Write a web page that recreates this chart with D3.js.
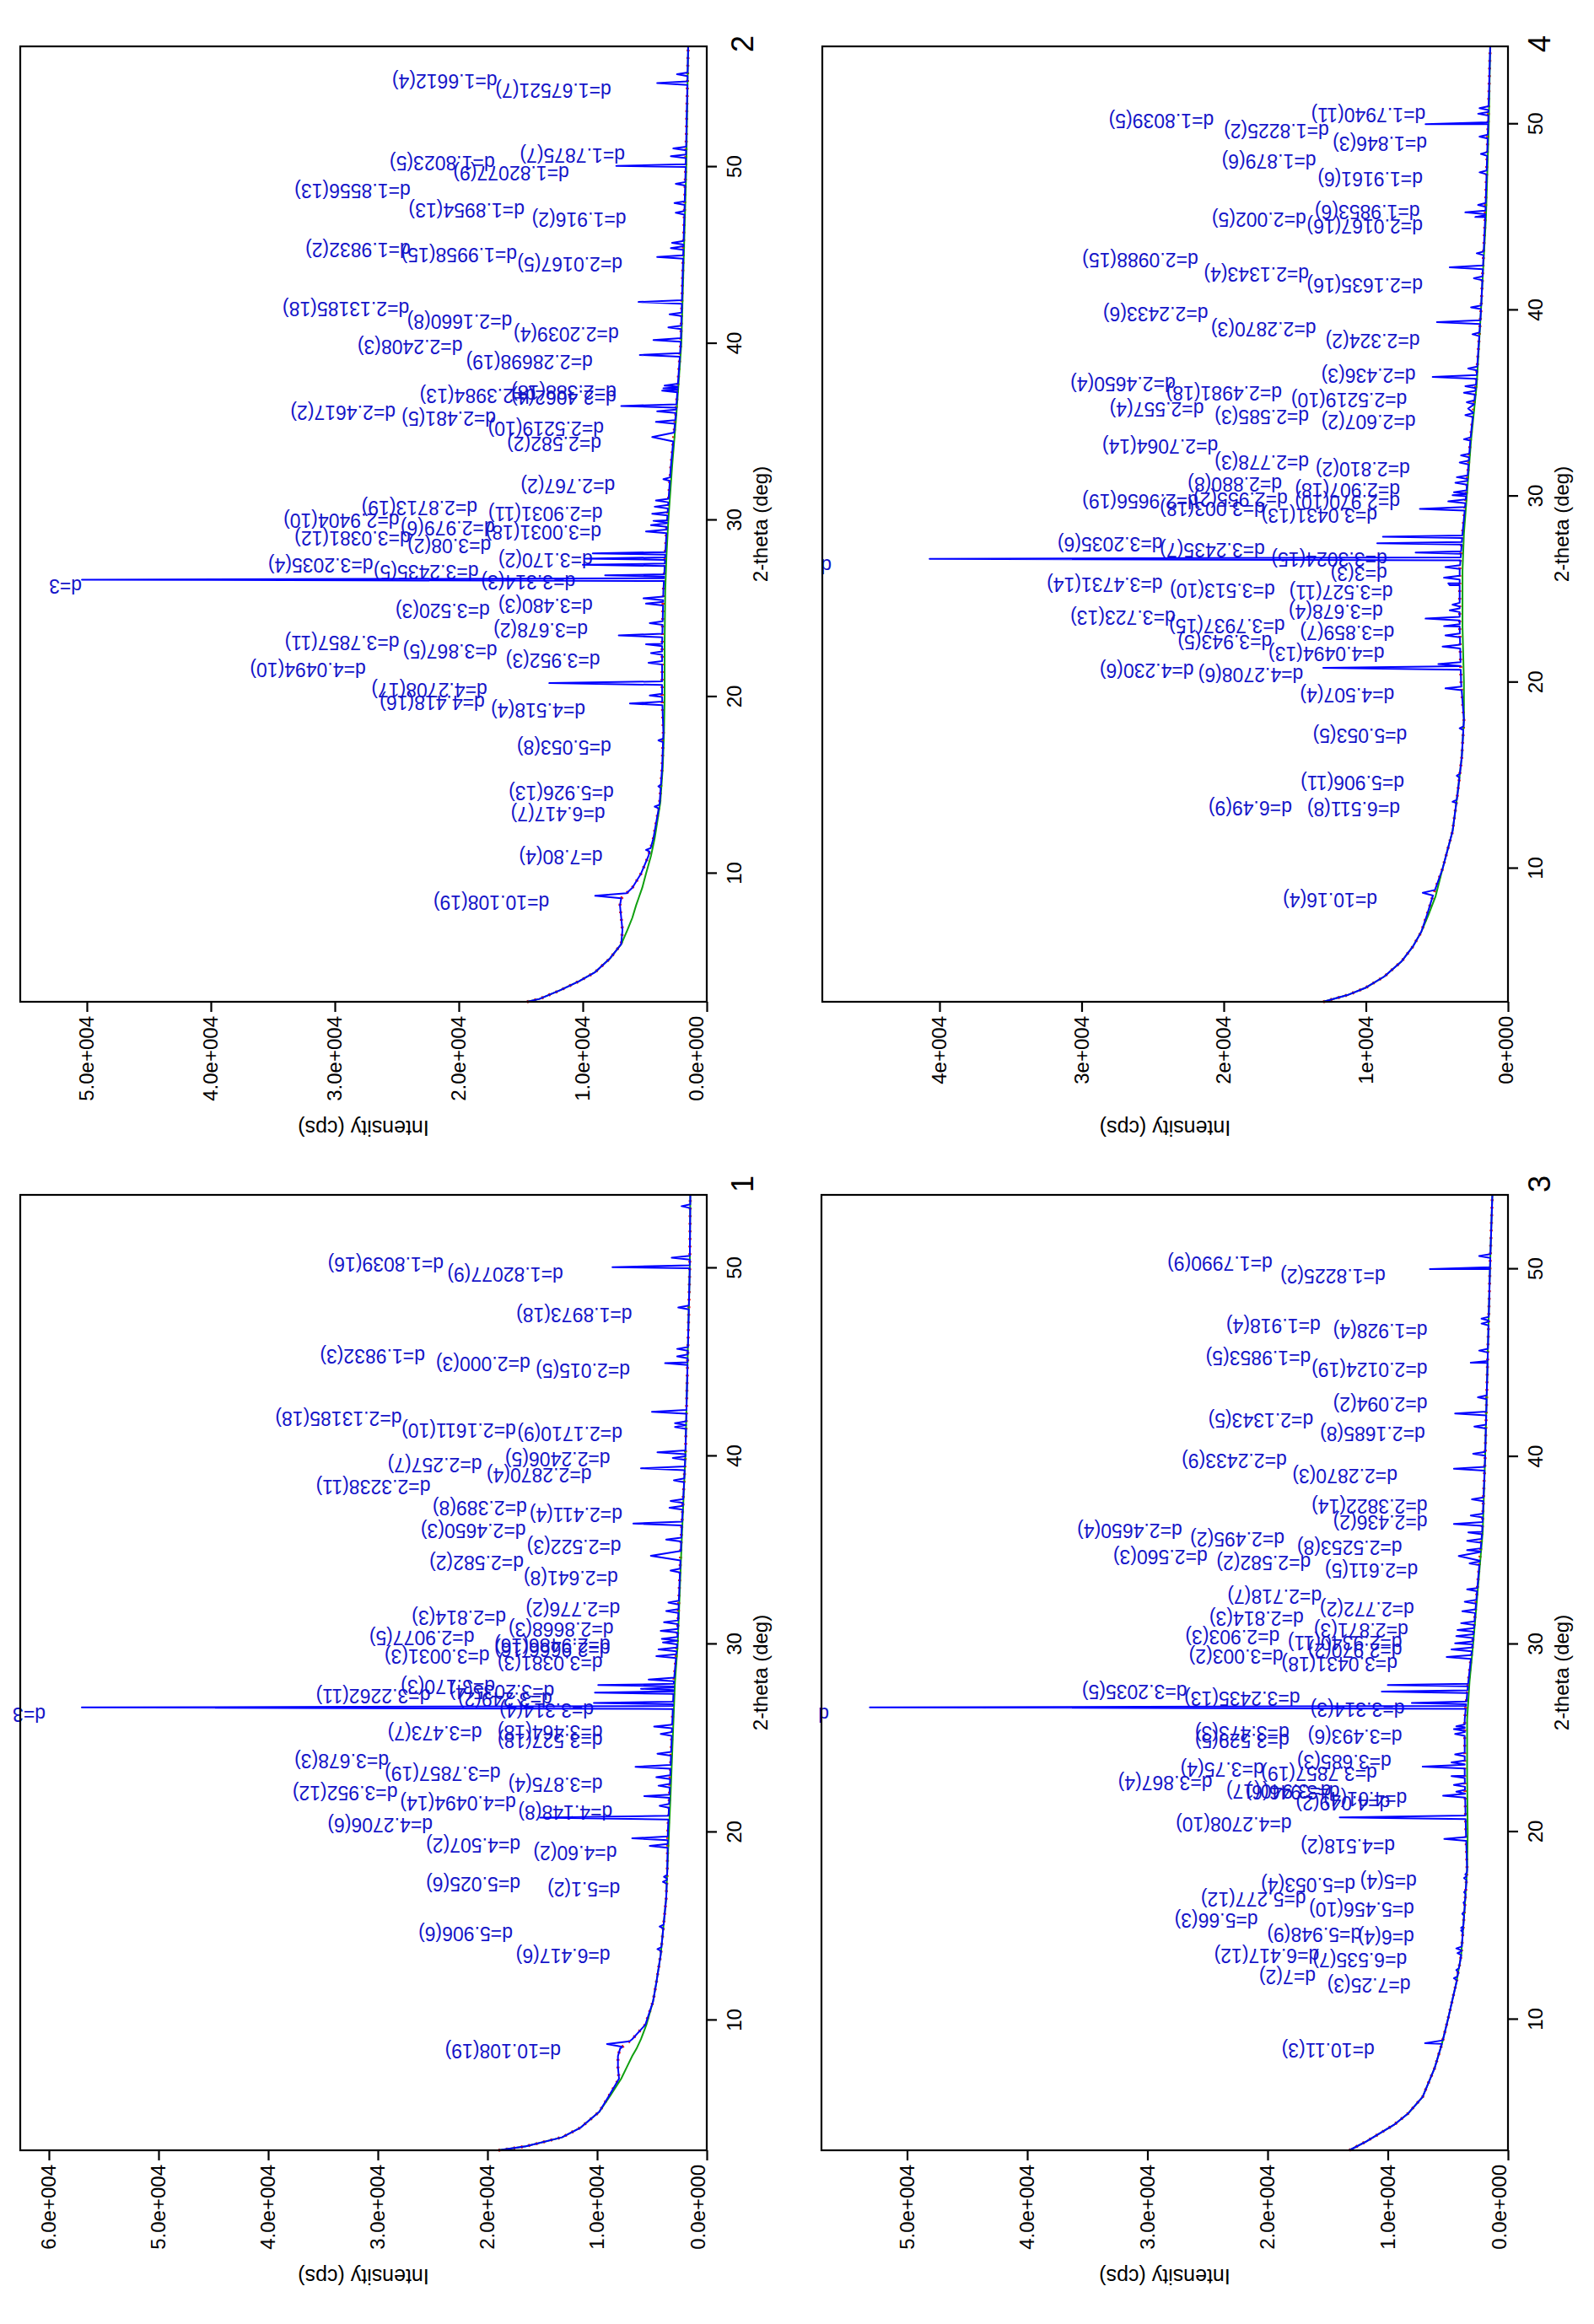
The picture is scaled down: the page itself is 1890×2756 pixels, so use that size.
<!DOCTYPE html>
<html><head><meta charset="utf-8">
<script src="https://cdn.jsdelivr.net/npm/d3@7/dist/d3.min.js"></script>
<style>body{margin:0;background:#fff}svg{display:block}</style>
</head><body>
<svg id="chart" width="1890" height="2756"></svg>
<script>
// ---------------- tick values / labels ----------------
const twoThetaTicks = [10, 20, 30, 40, 50];
const twoThetaTickLabels = ["10", "20", "30", "40", "50"];
const intensityTicks6 = [0, 10000, 20000, 30000, 40000, 50000, 60000];
const intensityTickLabels6 = ["0.0e+000", "1.0e+004", "2.0e+004", "3.0e+004", "4.0e+004", "5.0e+004", "6.0e+004"];
const intensityTicks5 = [0, 10000, 20000, 30000, 40000, 50000];
const intensityTickLabels5 = ["0.0e+000", "1.0e+004", "2.0e+004", "3.0e+004", "4.0e+004", "5.0e+004"];
const intensityTicks4 = [0, 10000, 20000, 30000, 40000];
const intensityTickLabels4 = ["0e+000", "1e+004", "2e+004", "3e+004", "4e+004"];

// ---------------- pattern 1 ----------------
const p1Theta = [3.09, 3.3, 3.78, 4.3, 5.14, 6, 6.9, 7.5, 8.1, 8.5, 9.0, 9.77, 11, 12, 13.5, 16.5, 18, 20, 22, 25, 28, 30, 33, 36, 40, 45, 50, 53.9];
const p1Bg = [19000, 16500, 13200, 11500, 9800, 8800, 7800, 7300, 6800, 6400, 6000, 5500, 4900, 4600, 4200, 3700, 3600, 3450, 3300, 3100, 2900, 2650, 2450, 2250, 1950, 1750, 1550, 1500];
const p1Obs = [19000, 16500, 13200, 11500, 9800, 8900, 8000, 8100, 8100, 7900, 6800, 5600, 4900, 4600, 4200, 3700, 3600, 3550, 3400, 3200, 3000, 2700, 2500, 2300, 1950, 1750, 1550, 1500];
const p1Peaks = [[8.74, 9100, 0.15], [13.79, 4500], [14.99, 4300], [17.37, 4000], [17.64, 3900], [19.28, 5200], [19.68, 6800], [20.78, 15200], [21.41, 4300], [21.93, 5700], [22.48, 4400], [22.93, 4600], [23.48, 6500], [24.18, 4500], [25.23, 4200], [25.63, 4800], [26.64, 57000, 0.08], [26.88, 10300, 0.07], [27.43, 10200, 0.07], [27.63, 6000, 0.07], [27.83, 9900, 0.07], [28.13, 5300], [29.37, 4600], [29.73, 4400], [30.1, 4000], [30.29, 4100], [30.72, 4200], [31.17, 3900], [31.77, 3700], [32.22, 3500], [33.92, 3300], [34.71, 5100, 0.25], [35.57, 3700], [36.42, 6700], [37.26, 3400], [37.62, 3300], [38.72, 3000], [39.36, 6000], [39.91, 3100], [40.21, 4500], [41.56, 2900], [41.76, 2900], [42.36, 5000], [44.95, 3800], [45.31, 2700], [45.71, 2700], [47.91, 2600], [50.06, 8600], [50.56, 3200], [53.3, 2300]];
const p1Labels = [
  ["d=10.108(19)", 8.74, 13300], ["d=6.417(6)", 13.79, 8800], ["d=5.906(6)", 14.99, 17700],
  ["d=5.1(2)", 17.37, 7900], ["d=5.025(6)", 17.64, 17000], ["d=4.60(2)", 19.28, 8200], ["d=4.507(2)", 19.68, 17000],
  ["d=4.2706(6)", 20.78, 25000], ["d=4.148(8)", 21.41, 8600], ["d=4.0494(14)", 21.93, 17400], ["d=3.952(12)", 22.48, 28200],
  ["d=3.875(4)", 22.93, 9500], ["d=3.7857(19)", 23.48, 18800], ["d=3.678(3)", 24.18, 29000],
  ["d=3.527(18)", 25.23, 9500], ["d=3.464(18)", 25.70, 9500], ["d=3.473(7)", 25.63, 20500],
  ["d=3", 26.64, 60300], ["d=3.314(4)", 26.88, 10300], ["d=3.249(2)", 27.43, 14100], ["d=3.2262(11)", 27.63, 25200],
  ["d=3.2035(4)", 27.83, 13900], ["d=3.170(3)", 28.13, 19300], ["d=3.0381(3)", 29.37, 9500], ["d=3.0031(3)", 29.73, 19800],
  ["d=2.9666(16)", 30.10, 8800], ["d=2.9486(16)", 30.29, 8800], ["d=2.9077(5)", 30.72, 21200], ["d=2.8668(3)", 31.17, 8500],
  ["d=2.814(3)", 31.77, 18300], ["d=2.776(2)", 32.22, 7900], ["d=2.641(8)", 33.92, 8100], ["d=2.582(2)", 34.71, 16700],
  ["d=2.522(3)", 35.57, 7800], ["d=2.4650(3)", 36.42, 16500], ["d=2.411(4)", 37.26, 7700], ["d=2.389(8)", 37.62, 16400],
  ["d=2.3238(11)", 38.72, 25200], ["d=2.2870(4)", 39.36, 10500], ["d=2.257(7)", 39.91, 20500], ["d=2.2406(5)", 40.21, 8800],
  ["d=2.1710(9)", 41.56, 7700], ["d=2.1611(10)", 41.76, 17400], ["d=2.13185(18)", 42.36, 27800],
  ["d=2.015(5)", 44.95, 7000], ["d=2.000(3)", 45.31, 16100], ["d=1.9832(3)", 45.71, 25700],
  ["d=1.8973(18)", 47.91, 6800], ["d=1.82077(9)", 50.06, 13100], ["d=1.8039(16)", 50.56, 24000]
];

// ---------------- pattern 2 ----------------
const p2Theta = [2.74, 2.9, 3.4, 3.9, 4.42, 5.2, 6.0, 6.8, 7.5, 8.2, 8.6, 9.2, 10, 11, 12, 14, 16, 18, 20, 23, 26, 28, 30, 33, 36, 40, 45, 50, 56.83];
const p2Bg = [14500, 13500, 11800, 10300, 9000, 7800, 6900, 6400, 6000, 5700, 5500, 5200, 4900, 4500, 4200, 3750, 3550, 3450, 3400, 3400, 3350, 3250, 3100, 2800, 2450, 2050, 1850, 1650, 1500];
const p2Obs = [14500, 13500, 11800, 10300, 9000, 7800, 6900, 6800, 6900, 7000, 6900, 6000, 5300, 4700, 4300, 3800, 3600, 3500, 3600, 3600, 3500, 3350, 3200, 2900, 2500, 2100, 1900, 1700, 1500];
const p2Peaks = [[8.74, 9000, 0.15], [11.34, 4900], [13.79, 4200], [14.94, 3900], [17.54, 3900], [19.63, 6200], [20.08, 4600], [20.78, 12700], [21.93, 4700], [22.48, 4500], [22.98, 4900], [23.48, 7100], [24.18, 4600], [25.28, 4900], [25.58, 5100], [26.64, 50400, 0.08], [26.88, 8200, 0.07], [27.48, 10000, 0.07], [27.83, 9800, 0.07], [28.13, 9200, 0.07], [29.37, 4900], [29.73, 4500], [29.97, 4300], [30.37, 4400], [30.77, 4200], [31.12, 4100], [32.33, 3500], [34.71, 4400, 0.25], [35.57, 4100], [36.17, 4000], [36.47, 6900], [37.34, 3600], [37.47, 3500], [37.63, 3400], [39.36, 5400], [40.21, 4300], [40.92, 3100], [41.66, 3000], [42.36, 5500], [44.91, 4000], [45.41, 2900], [45.71, 2800], [47.41, 2500], [47.96, 2600], [49.05, 2500], [50.06, 7300], [50.61, 2900], [51.05, 2700], [54.75, 4000], [55.25, 2400]];
const p2Labels = [
  ["d=10.108(19)", 8.74, 12700], ["d=7.80(4)", 11.34, 8400], ["d=6.417(7)", 13.79, 8200], ["d=5.926(13)", 14.94, 7500],
  ["d=5.053(8)", 17.54, 7700], ["d=4.518(4)", 19.63, 9800], ["d=4.418(16)", 20.08, 17900], ["d=4.2708(17)", 20.78, 17700],
  ["d=4.0494(10)", 21.93, 27500], ["d=3.952(3)", 22.48, 8600], ["d=3.867(5)", 22.98, 16900], ["d=3.7857(11)", 23.48, 24800],
  ["d=3.678(2)", 24.18, 9600], ["d=3.520(3)", 25.28, 17500], ["d=3.480(3)", 25.58, 9200], ["d=3", 26.64, 50400],
  ["d=3.314(3)", 26.88, 10600], ["d=3.2435(5)", 27.48, 18400], ["d=3.2035(4)", 27.83, 26900], ["d=3.170(2)", 28.13, 9200],
  ["d=3.08(2)", 28.97, 17400], ["d=3.0381(12)", 29.37, 23900], ["d=3.0031(18)", 29.73, 8500], ["d=2.979(6)", 29.97, 17100],
  ["d=2.9404(10)", 30.37, 24800], ["d=2.9031(11)", 30.77, 8400], ["d=2.8713(19)", 31.12, 18500], ["d=2.767(2)", 32.33, 7400],
  ["d=2.582(2)", 34.71, 8500], ["d=2.5219(10)", 35.57, 8300], ["d=2.481(5)", 36.17, 17000], ["d=2.4617(2)", 36.47, 25100],
  ["d=2.4062(4)", 37.34, 7300], ["d=2.3984(13)", 37.47, 13800], ["d=2.388(18)", 37.63, 7300],
  ["d=2.28698(19)", 39.36, 9200], ["d=2.2408(3)", 40.21, 19700], ["d=2.2039(4)", 40.92, 7100], ["d=2.1660(8)", 41.66, 15700],
  ["d=2.13185(18)", 42.36, 24000], ["d=2.0167(5)", 44.91, 6800], ["d=1.9958(15)", 45.41, 15300], ["d=1.9832(2)", 45.71, 23900],
  ["d=1.916(2)", 47.41, 6500], ["d=1.8954(13)", 47.96, 14700], ["d=1.8556(13)", 49.05, 23900], ["d=1.82077(9)", 50.06, 11100],
  ["d=1.8023(5)", 50.61, 17100], ["d=1.7875(7)", 51.05, 6600], ["d=1.67521(7)", 54.75, 7700], ["d=1.6612(4)", 55.25, 16900]
];

// ---------------- pattern 3 ----------------
const p3Theta = [3.03, 3.5, 4.38, 5.0, 5.88, 7.42, 8.7, 10, 11.95, 13.4, 16, 18, 20, 23, 26, 28, 30, 33, 36, 40, 45, 50, 53.96];
const p3Bg = [13200, 11800, 9500, 8300, 7100, 6100, 5500, 5000, 4300, 3900, 3600, 3400, 3350, 3400, 3400, 3200, 2900, 2500, 2100, 1900, 1700, 1500, 1300];
const p3Obs = [13200, 11800, 9500, 8300, 7100, 6100, 5500, 5000, 4300, 3900, 3600, 3400, 3500, 3600, 3600, 3300, 2950, 2550, 2150, 1900, 1700, 1500, 1300];
const p3Peaks = [[8.74, 6900, 0.15], [12.2, 4500], [12.64, 4300], [13.54, 4200], [13.79, 4300], [14.75, 3900], [14.88, 3900], [15.64, 3800], [16.23, 3700], [16.79, 3650], [17.54, 3650], [17.73, 3550], [19.63, 5300], [20.78, 14000], [21.93, 5400], [22.15, 4300], [22.51, 4500], [22.98, 4700], [23.48, 7100], [23.71, 4700], [24.13, 4400], [25.22, 4400], [25.48, 4500], [25.63, 4300], [26.64, 53100, 0.08], [26.88, 8000, 0.07], [27.48, 10500, 0.07], [27.83, 10000, 0.07], [29.33, 5100], [29.73, 4700], [30.06, 4400], [30.44, 4300], [30.77, 4200], [31.13, 3900], [31.77, 3800], [32.27, 3600], [32.93, 3400], [34.32, 3200], [34.71, 4100, 0.25], [35.02, 3400], [35.52, 3400], [35.97, 3300], [36.42, 4500], [36.87, 3100], [37.73, 3000], [39.36, 4500], [40.16, 2900], [41.61, 2800], [42.31, 4400], [43.17, 2500], [45.01, 3100], [45.66, 2400], [47.1, 2200], [47.36, 2200], [50.0, 6500], [50.7, 2400]];
const p3Labels = [
  ["d=10.11(3)", 8.74, 11100], ["d=7.25(3)", 12.20, 8100], ["d=7(2)", 12.64, 16000], ["d=6.535(7)", 13.54, 8400],
  ["d=6.417(12)", 13.79, 15700], ["d=6(4)", 14.75, 7800], ["d=5.948(9)", 14.88, 12200], ["d=5.66(3)", 15.64, 20800],
  ["d=5.456(10)", 16.23, 7800], ["d=5.277(12)", 16.79, 16800], ["d=5.053(4)", 17.54, 12700], ["d=5(4)", 17.73, 7600],
  ["d=4.518(2)", 19.63, 9400], ["d=4.2708(10)", 20.78, 18000], ["d=4.049(2)", 21.93, 9800], ["d=4.01(4)", 22.15, 8400],
  ["d=3.946(6)", 22.51, 14000], ["d=3.940(17)", 22.55, 14700], ["d=3.867(4)", 22.98, 24600], ["d=3.7857(19)", 23.48, 10900],
  ["d=3.75(4)", 23.71, 20300], ["d=3.685(3)", 24.13, 9700], ["d=3.529(5)", 25.22, 18200], ["d=3.493(6)", 25.48, 8800],
  ["d=3.473(3)", 25.63, 18200], ["d", 26.64, 56500], ["d=3.314(3)", 26.88, 8600], ["d=3.2435(13)", 27.48, 17300],
  ["d=3.2035(5)", 27.83, 26700], ["d=3.0431(18)", 29.33, 9200], ["d=3.003(2)", 29.73, 18700], ["d=2.970(2)", 30.06, 8800],
  ["d=2.9340(11)", 30.44, 8800], ["d=2.903(3)", 30.77, 19000], ["d=2.871(3)", 31.13, 8300], ["d=2.814(3)", 31.77, 17000],
  ["d=2.772(2)", 32.27, 7800], ["d=2.718(7)", 32.93, 15500], ["d=2.611(5)", 34.32, 7500], ["d=2.582(2)", 34.71, 16400],
  ["d=2.560(3)", 35.02, 25000], ["d=2.5253(8)", 35.52, 8800], ["d=2.495(2)", 35.97, 18600], ["d=2.4650(4)", 36.42, 27100],
  ["d=2.436(2)", 36.87, 6700], ["d=2.3822(14)", 37.73, 6700], ["d=2.2870(3)", 39.36, 9200], ["d=2.2433(9)", 40.16, 18400],
  ["d=2.1685(8)", 41.61, 6900], ["d=2.1343(5)", 42.31, 16200], ["d=2.094(2)", 43.17, 6700], ["d=2.0124(19)", 45.01, 6700],
  ["d=1.9853(5)", 45.66, 16400], ["d=1.928(4)", 47.10, 6700], ["d=1.918(4)", 47.36, 15600], ["d=1.8225(2)", 50.00, 10200],
  ["d=1.7990(9)", 50.70, 19600]
];

// ---------------- pattern 4 ----------------
const p4Theta = [2.84, 3.2, 3.6, 4.2, 5.0, 5.8, 6.6, 7.5, 8.5, 10, 12, 14, 16, 18, 20, 23, 26, 28, 30, 33, 36, 40, 45, 50, 54.18];
const p4Bg = [13000, 11300, 10000, 8700, 7500, 6700, 6100, 5600, 5100, 4600, 3900, 3550, 3250, 3100, 3100, 3200, 3200, 3100, 2900, 2600, 2200, 1900, 1550, 1350, 1250];
const p4Obs = [13000, 11300, 10000, 8700, 7500, 6700, 6100, 5700, 5300, 4600, 3900, 3550, 3250, 3100, 3300, 3400, 3400, 3200, 2950, 2650, 2250, 1900, 1600, 1400, 1250];
const p4Peaks = [[8.70, 6000, 0.15], [13.59, 3900], [13.63, 3800], [14.99, 3600], [17.54, 3400], [19.68, 4400], [20.78, 13000], [20.99, 4900], [21.93, 4600], [22.53, 4400], [23.03, 4500], [23.43, 5800], [23.88, 4100], [24.18, 3900], [25.23, 4100], [25.33, 4200], [25.63, 4500], [26.2, 4400], [26.64, 40700, 0.08], [26.98, 6500, 0.07], [27.48, 9200, 0.07], [27.83, 8800, 0.07], [29.33, 6200], [29.73, 4200], [30.06, 3900], [30.22, 3800], [30.73, 3700], [31.03, 3600], [31.82, 3400], [32.2, 3300], [33.07, 3100], [34.37, 3000], [34.72, 2800, 0.22], [35.06, 2900], [35.57, 3100], [35.92, 3000], [36.42, 5300], [36.87, 2800], [38.71, 2500], [39.36, 5000], [40.16, 2600], [41.72, 2400], [42.31, 4100], [43.06, 2200], [45.01, 2300], [45.26, 3000], [45.66, 2100], [47.41, 2000], [48.40, 1900], [49.33, 2000], [50.0, 5800], [50.56, 2100], [50.86, 2000]];
const p4Labels = [
  ["d=10.16(4)", 8.70, 9200], ["d=6.511(8)", 13.59, 7600], ["d=6.49(9)", 13.63, 15200], ["d=5.906(11)", 14.99, 7300],
  ["d=5.053(5)", 17.54, 7100], ["d=4.507(4)", 19.68, 8000], ["d=4.2708(6)", 20.78, 14400], ["d=4.230(6)", 20.99, 22100],
  ["d=4.0494(13)", 21.93, 8700], ["d=3.943(5)", 22.53, 16600], ["d=3.859(7)", 23.03, 8000], ["d=3.7937(15)", 23.43, 15700],
  ["d=3.723(13)", 23.88, 23400], ["d=3.678(4)", 24.18, 8800], ["d=3.527(11)", 25.23, 8100], ["d=3.513(10)", 25.33, 16400],
  ["d=3.4731(14)", 25.63, 24300], ["d=3(3)", 26.2, 8500], ["d", 26.64, 47600], ["d=3.3024(15)", 26.98, 8500],
  ["d=3.2435(7)", 27.48, 17100], ["d=3.2035(6)", 27.83, 24300], ["d=3.0431(13)", 29.33, 9200], ["d=3.003(18)", 29.73, 17100],
  ["d=2.970(10)", 30.06, 7600], ["d=2.9656(19)", 30.11, 21800], ["d=2.955(2)", 30.22, 15500], ["d=2.907(18)", 30.73, 7600],
  ["d=2.880(8)", 31.03, 15900], ["d=2.810(2)", 31.82, 6900], ["d=2.778(3)", 32.20, 14000], ["d=2.7064(14)", 33.07, 20400],
  ["d=2.607(2)", 34.37, 6500], ["d=2.585(3)", 34.67, 14000], ["d=2.557(4)", 35.06, 21400], ["d=2.5219(10)", 35.57, 7100],
  ["d=2.4981(18)", 35.92, 15900], ["d=2.4650(4)", 36.42, 23400], ["d=2.436(3)", 36.87, 6500], ["d=2.324(2)", 38.71, 6200],
  ["d=2.2870(3)", 39.36, 13500], ["d=2.2433(6)", 40.16, 21100], ["d=2.1635(16)", 41.72, 6000], ["d=2.1343(4)", 42.31, 14000],
  ["d=2.0988(15)", 43.06, 21800], ["d=2.0167(16)", 44.91, 6000], ["d=2.002(5)", 45.26, 14200], ["d=1.9853(6)", 45.66, 6200],
  ["d=1.9161(6)", 47.41, 6000], ["d=1.879(6)", 48.40, 13500], ["d=1.846(3)", 49.33, 5700], ["d=1.8225(2)", 50.00, 12600],
  ["d=1.8039(5)", 50.56, 20700], ["d=1.7940(11)", 50.86, 5800]
];

// ---------------- layout (screen frame of each rotated panel) ----------------
const panels = [
  { id: "1", L: 24, R: 838, T: 1417, B: 2550, dom: [3.09, 53.9], iMax: 62615, numX: 880, numY: 1404, zeroShift: 10,
    theta: p1Theta, bg: p1Bg, obs: p1Obs, peaks: p1Peaks, labels: p1Labels, ticks: intensityTicks6, tickLabels: intensityTickLabels6 },
  { id: "2", L: 24, R: 838, T: 55, B: 1188, dom: [2.74, 56.83], iMax: 55374, numX: 880, numY: 52, zeroShift: 12,
    theta: p2Theta, bg: p2Bg, obs: p2Obs, peaks: p2Peaks, labels: p2Labels, ticks: intensityTicks5, tickLabels: intensityTickLabels5 },
  { id: "3", L: 974, R: 1788, T: 1417, B: 2550, dom: [3.03, 53.96], iMax: 57123, numX: 1825, numY: 1404, zeroShift: 10,
    theta: p3Theta, bg: p3Bg, obs: p3Obs, peaks: p3Peaks, labels: p3Labels, ticks: intensityTicks5, tickLabels: intensityTickLabels5 },
  { id: "4", L: 975, R: 1788, T: 55, B: 1188, dom: [2.84, 54.18], iMax: 48249, numX: 1825, numY: 52, zeroShift: 2,
    theta: p4Theta, bg: p4Bg, obs: p4Obs, peaks: p4Peaks, labels: p4Labels, ticks: intensityTicks4, tickLabels: intensityTickLabels4 }
];

const FONT = "'Liberation Sans', Arial, Helvetica, sans-serif";
const svg = d3.select("#chart");
svg.append("rect").attr("width", 1890).attr("height", 2756).attr("fill", "#fff");

panels.forEach(p => {
  const W = p.B - p.T, H = p.R - p.L;
  // unrotated plot (2-theta along x, intensity up), then turned 90 deg counter-clockwise
  const g = svg.append("g").attr("transform", `translate(${p.L},${p.B}) rotate(-90)`);
  const x = d3.scaleLinear().domain(p.dom).range([0, W]);
  const y = d3.scaleLinear().domain([0, p.iMax]).range([H, 0]);
  const baseAt = d3.scaleLinear().domain(p.theta).range(p.obs).clamp(true);
  const line = d3.line().x(d => x(d[0])).y(d => y(d[1]));

  // peak labels (srt = 90 in the unrotated plot)
  const lab = g.append("g").attr("font-family", FONT).attr("font-size", 23).attr("fill", "#1414c8");
  p.labels.forEach(([t, th, iv]) => {
    lab.append("text").attr("transform", `translate(${x(th)},${y(iv)}) rotate(-90)`).text(t);
  });

  // observed points (red), background (green), fitted profile (blue)
  const obsPts = p.theta.map((t, i) => [t, p.obs[i]]);
  g.append("path").datum(obsPts).attr("d", line).attr("fill", "none").attr("stroke", "#ee1111")
    .attr("stroke-width", 3.6).attr("stroke-dasharray", "2,7");
  const bgPts = p.theta.map((t, i) => [t, p.bg[i]]);
  g.append("path").datum(bgPts).attr("d", line).attr("fill", "none").attr("stroke", "#10a010").attr("stroke-width", 2);

  const pts = obsPts.slice();
  p.peaks.forEach(([th, top, hw]) => {
    const w = hw || 0.1;
    pts.push([th - w, baseAt(th - w)], [th, top], [th + w, baseAt(th + w)]);
  });
  pts.sort((a, b) => a[0] - b[0]);
  g.append("path").datum(pts).attr("d", line).attr("fill", "none").attr("stroke", "#0000ff")
    .attr("stroke-width", 2).attr("stroke-linejoin", "round");

  // frame
  g.append("rect").attr("width", W).attr("height", H).attr("fill", "none").attr("stroke", "#000").attr("stroke-width", 2.2);

  // 2-theta axis (appears at the right side)
  const ax = g.append("g").attr("transform", `translate(0,${H})`)
    .call(d3.axisBottom(x).tickValues(twoThetaTicks).tickFormat((d, i) => twoThetaTickLabels[i])
      .tickSize(12).tickPadding(12).tickSizeOuter(0));
  ax.select(".domain").remove();
  ax.selectAll("line").attr("stroke", "#000").attr("stroke-width", 2.2);
  ax.selectAll("text").attr("font-family", FONT).attr("font-size", 24).attr("fill", "#000");

  // intensity axis (appears at the bottom)
  const ay = g.append("g")
    .call(d3.axisLeft(y).tickValues(p.ticks).tickFormat((d, i) => p.tickLabels[i])
      .tickSize(12).tickPadding(5).tickSizeOuter(0));
  ay.select(".domain").remove();
  ay.selectAll("line").attr("stroke", "#000").attr("stroke-width", 2.2);
  ay.selectAll("text").attr("font-family", FONT).attr("font-size", 24).attr("fill", "#000");
  ay.selectAll("text").filter((d, i) => i === 0).attr("y", -p.zeroShift);

  // axis titles
  g.append("text").attr("transform", `translate(${-150},${H / 2}) rotate(-90)`)
    .attr("text-anchor", "middle").attr("dominant-baseline", "central")
    .attr("font-family", FONT).attr("font-size", 25).attr("fill", "#000").text("Intensity (cps)");
  g.append("text").attr("x", W / 2).attr("y", H + 63)
    .attr("text-anchor", "middle").attr("dominant-baseline", "central")
    .attr("font-family", FONT).attr("font-size", 24).attr("fill", "#000").text("2-theta (deg)");

  // panel number
  g.append("text").attr("x", p.B - p.numY).attr("y", p.numX - p.L)
    .attr("text-anchor", "middle").attr("dominant-baseline", "central")
    .attr("font-family", FONT).attr("font-size", 36).attr("fill", "#000").text(p.id);
});
</script>
</body></html>
